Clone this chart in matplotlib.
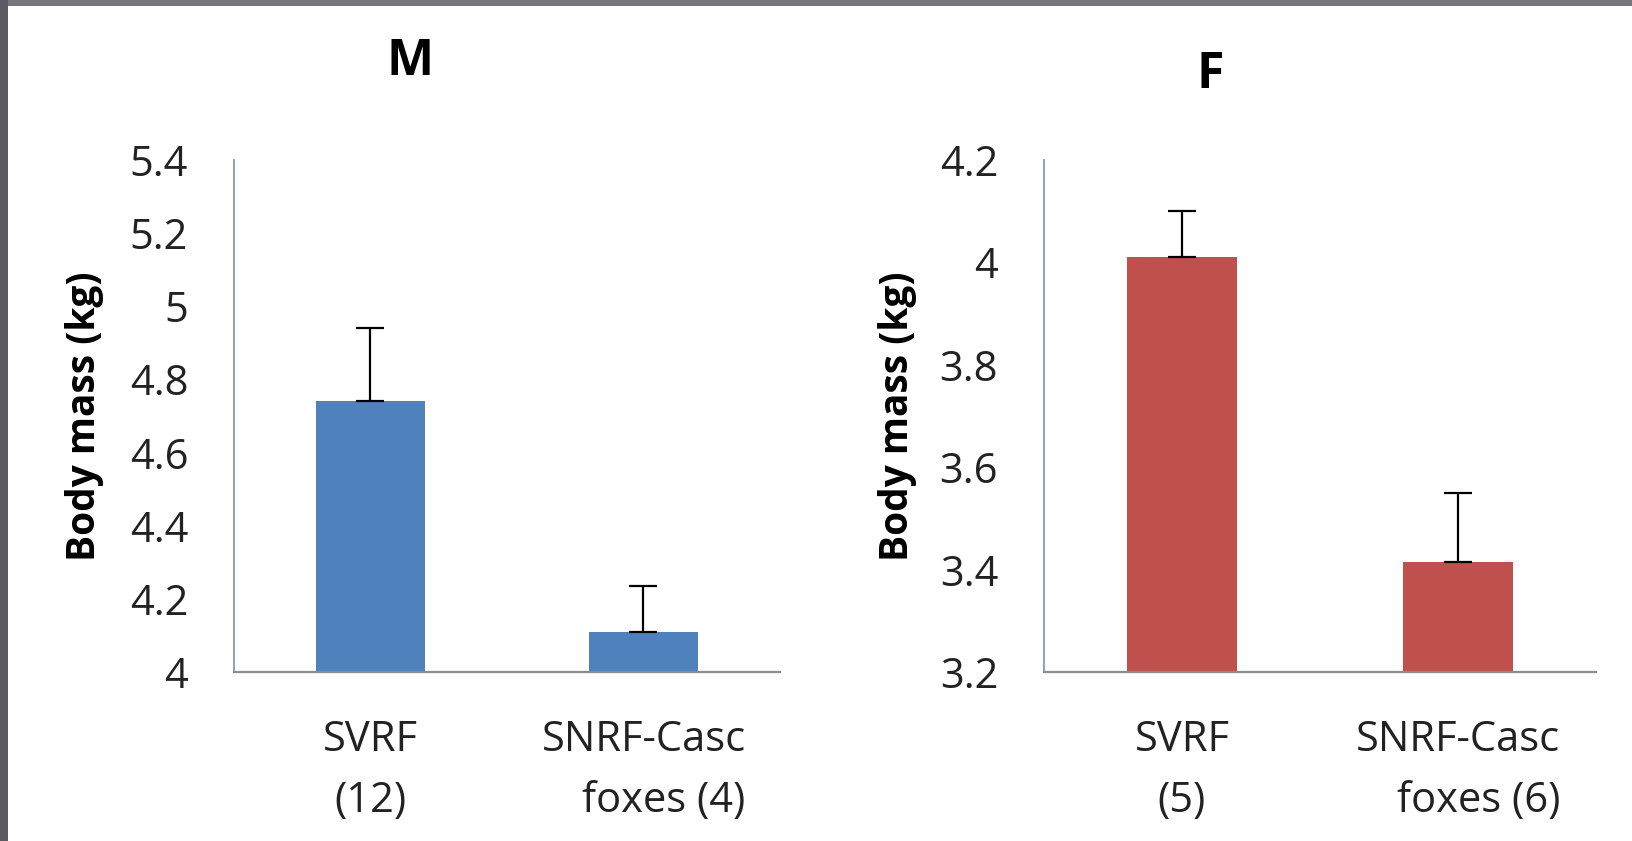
import matplotlib.pyplot as plt
from matplotlib.patches import Rectangle
from matplotlib.ticker import FuncFormatter

plt.rcParams['font.family'] = ['Open Sans', 'DejaVu Sans']

# data
cats_m = ['SVRF\n(12)', 'SNRF-Casc\nfoxes (4)']
mass_m = [4.74, 4.11]
err_m = [0.20, 0.125]

cats_f = ['SVRF\n(5)', 'SNRF-Casc\nfoxes (6)']
mass_f = [4.01, 3.415]
err_f = [0.09, 0.135]

ylim_m = (4.0, 5.4)
ylim_f = (3.2, 4.2)
ticks_m = [4.0, 4.2, 4.4, 4.6, 4.8, 5.0, 5.2, 5.4]
ticks_f = [3.2, 3.4, 3.6, 3.8, 4.0, 4.2]

W, H = 1633, 841
fig = plt.figure(figsize=(W / 100, H / 100), dpi=100)

# dark frame band on top and left (slide border)
fig.patches.append(Rectangle((0, 1 - 6 / H), 1, 6 / H, transform=fig.transFigure,
                             facecolor='#77767e', edgecolor='none', zorder=0))
fig.patches.append(Rectangle((0, 0), 8 / W, 1, transform=fig.transFigure,
                             facecolor='#5c5b63', edgecolor='none', zorder=0))

fmt = FuncFormatter(lambda v, p: '%g' % round(v, 1))


def panel(rect, cats, vals, errs, color, ylim, ticks):
    ax = fig.add_axes(rect)
    x = range(len(cats))
    ax.bar(x, [v - ylim[0] for v in vals], bottom=ylim[0], width=0.4,
           color=color, zorder=2)
    ax.errorbar(x, vals, yerr=[[0] * len(errs), errs], fmt='none',
                ecolor='black', elinewidth=1.6, capsize=10, capthick=1.6, zorder=3)
    ax.set_xlim(-0.5, 1.5)
    ax.set_ylim(*ylim)
    ax.set_yticks(ticks)
    ax.yaxis.set_major_formatter(fmt)
    ax.set_xticks(list(x))
    ax.set_xticklabels(cats, fontsize=30, multialignment='right', linespacing=1.6)
    ax.tick_params(axis='y', length=0, pad=33, labelsize=30, labelcolor='#222222')
    ax.tick_params(axis='x', length=0, pad=34, labelcolor='#222222')
    for s in ['top', 'right']:
        ax.spines[s].set_visible(False)
    ax.spines['left'].set_color('#86a2c4')
    ax.spines['left'].set_linewidth(1.4)
    ax.spines['bottom'].set_color('#8c8c8c')
    ax.spines['bottom'].set_linewidth(1.6)
    ax.set_ylabel('Body mass (kg)', fontsize=28, fontweight='bold')
    return ax


ax1 = panel([234 / W, 1 - 672 / H, 546 / W, 512 / H], cats_m, mass_m, err_m,
            '#4f81bd', ylim_m, ticks_m)
ax1.xaxis.get_ticklabels()[0].set_multialignment('center')
ax1.yaxis.set_label_coords(-0.238, 0.5)

ax2 = panel([1044 / W, 1 - 672 / H, 552 / W, 512 / H], cats_f, mass_f, err_f,
            '#c0504d', ylim_f, ticks_f)
ax2.xaxis.get_ticklabels()[0].set_multialignment('center')
ax2.yaxis.set_label_coords(-0.23, 0.5)

fig.text(410 / W, 1 - 62 / H, 'M', fontsize=36, fontweight='bold', ha='center', va='center')
fig.text(1210 / W, 1 - 75 / H, 'F', fontsize=36, fontweight='bold', ha='center', va='center')

plt.savefig('out.png', dpi=100)
